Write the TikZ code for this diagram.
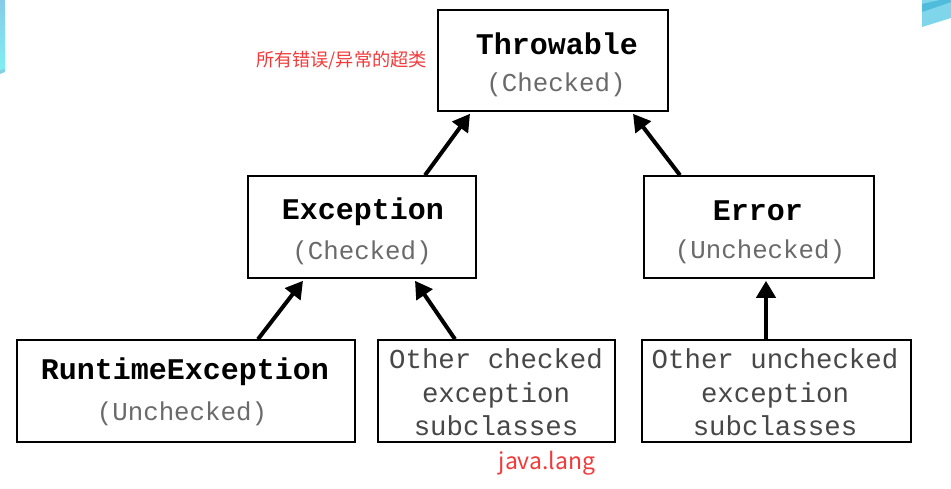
\documentclass[tikz,border=0pt]{standalone}
\usepackage{fontspec}
\setmonofont{Liberation Mono}
\newfontfamily\cjk{Noto Sans CJK SC}
\usetikzlibrary{arrows.meta}
\definecolor{labred}{HTML}{F23A3A}
\definecolor{subgrey}{HTML}{6A6A6A}
\definecolor{cyanA}{HTML}{86CCE6}
\definecolor{cyanB}{HTML}{80EEF4}
\definecolor{cyanC}{HTML}{7FD6EA}
\definecolor{cyanD}{HTML}{4FBCDB}
\tikzset{
  box/.style={draw=black, line width=1.6pt, fill=white, inner sep=0pt},
  title/.style={font=\ttfamily\bfseries\fontsize{30}{30}\selectfont, inner sep=0pt},
  sub/.style={font=\ttfamily\fontsize{25.8}{26}\selectfont, text=subgrey, inner sep=0pt},
  other/.style={font=\ttfamily\fontsize{27.4}{33.5}\selectfont, text=black!72, align=center, inner sep=0pt},
  arr/.style={line width=4pt, -{Triangle[length=17pt,width=19pt]}},
  note/.style={text=labred, inner sep=0pt}
}
\begin{document}
\begin{tikzpicture}[x=1pt,y=-1pt]
\useasboundingbox (0,0) rectangle (951,489);
% decorations
\shade[top color=cyanA, bottom color=cyanB] (0,0) rectangle (5,70);
\fill[cyanD!70] (0,70) -- (5,69) -- (5,72) -- (0,74) -- cycle;
\fill[cyanC] (922,0) -- (951,0) -- (951,18) -- (922,27) -- cycle;
\fill[cyanD] (922,4) -- (940,0) -- (951,0) -- (951,2) -- (922,12) -- cycle;
% boxes
\node[box, minimum width=230pt, minimum height=101pt] (thr) at (553,60.5) {};
\node[box, minimum width=228pt, minimum height=102pt] (exc) at (362,227) {};
\node[box, minimum width=230pt, minimum height=102pt] (err) at (759,227) {};
\node[box, minimum width=338pt, minimum height=102pt] (rte) at (186,391) {};
\node[box, minimum width=237pt, minimum height=102pt] (occ) at (496.5,391) {};
\node[box, minimum width=269pt, minimum height=102pt] (ouc) at (776.5,391) {};
% texts
\node[title] (thrT) at (557,43.5) {Throwable};
\node[sub] (thrS) at (556,85) {(Checked)};
\node[title] (excT) at (363,212) {Exception};
\node[sub] (excS) at (362,253) {(Checked)};
\node[title] (errT) at (758,211) {Error};
\node[sub] (errS) at (760,252) {(Unchecked)};
\node[title] (rteT) at (185,372) {RuntimeException};
\node[sub] (rteS) at (182,414) {(Unchecked)};
\node[other] (occT) at (496,392.5) {Other checked\\exception\\subclasses};
\node[other] (oucT) at (775,392.5) {Other unchecked\\exception\\subclasses};
% notes
\node[note, font=\cjk\fontsize{18.2}{18}\selectfont] (n1) at (341.5,60) {所有错误/异常的超类};
\node[note, font=\cjk\fontsize{23}{23}\selectfont] (n2) at (547,463) {java.lang};
% arrows
\draw[arr] ([xshift=63pt]exc.north) -- ([xshift=-83pt,yshift=-2pt]thr.south);
\draw[arr] ([xshift=-79pt]err.north) -- ([xshift=80pt,yshift=-2pt]thr.south);
\draw[arr] ([xshift=72pt]rte.north) -- ([xshift=-59pt,yshift=-2pt]exc.south);
\draw[arr] ([xshift=-41.5pt]occ.north) -- ([xshift=53pt,yshift=-2pt]exc.south);
\draw[arr] ([xshift=-10.5pt]ouc.north) -- ([xshift=7pt,yshift=-2pt]err.south);
\end{tikzpicture}
\end{document}
